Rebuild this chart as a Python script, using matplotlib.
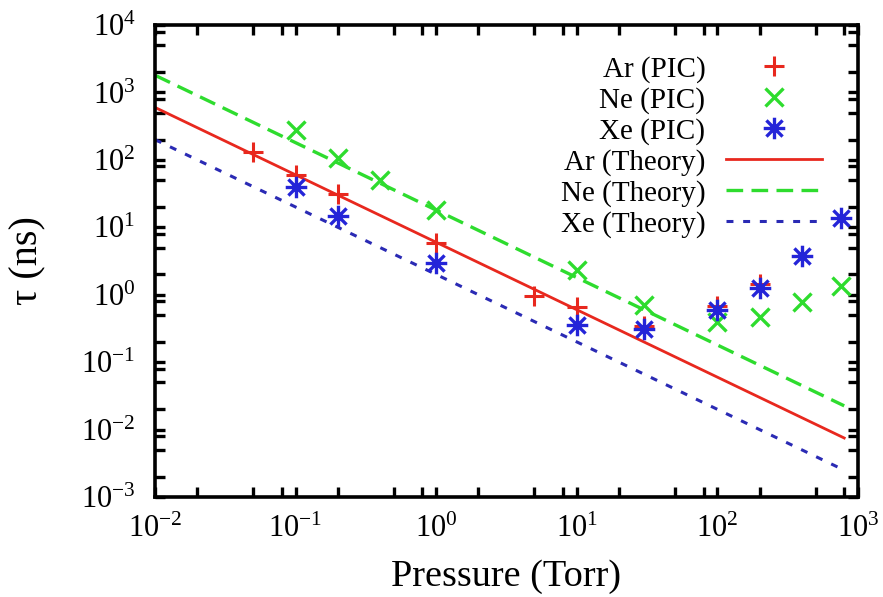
import matplotlib
matplotlib.use("Agg")
import matplotlib.pyplot as plt
from matplotlib.path import Path
from matplotlib.ticker import LogLocator, LogFormatterMathtext, NullFormatter

plt.rcParams["font.family"] = ["Liberation Serif", "DejaVu Serif"]
plt.rcParams["mathtext.fontset"] = "custom"
plt.rcParams["mathtext.rm"] = "Liberation Serif"
plt.rcParams["axes.unicode_minus"] = False
plt.rcParams["lines.scale_dashes"] = False

# PIC results (pressure in Torr, tau in ns)
ar_p = [0.05, 0.1, 0.2, 1, 5, 10, 30, 100, 200, 400]
ar_tau = [130, 60, 31, 5.8, 0.95, 0.66, 0.34, 0.68, 1.45, 3.8]

ne_p = [0.1, 0.2, 0.4, 1, 10, 30, 100, 200, 400, 760]
ne_tau = [280, 105, 50, 18, 2.3, 0.70, 0.40, 0.46, 0.79, 1.35]

xe_p = [0.1, 0.2, 1, 10, 30, 100, 200, 400, 760]
xe_tau = [40, 14.5, 3.0, 0.36, 0.31, 0.59, 1.27, 3.7, 13.6]

# Theory curves (straight lines on log-log axes)
theory_p = [0.01, 800]
ar_theory = [600, 0.0075]
ne_theory = [1800, 0.0225]
xe_theory = [200, 0.0025]

red = "#e8281e"
green = "#2edc2e"
blue = "#2424d8"
blue_line = "#2a2ab4"

# eight-armed asterisk marker (+ and x overlaid)
d = 0.75
star = Path(
    [(-1, 0), (1, 0), (0, -1), (0, 1), (-d, -d), (d, d), (-d, d), (d, -d)],
    [Path.MOVETO, Path.LINETO] * 4,
)

fig = plt.figure(figsize=(8.83, 5.97), dpi=100)
ax = fig.add_axes([0.1755, 0.1675, 0.796, 0.7906])

ax.plot(ar_p, ar_tau, linestyle="none", marker="+", ms=14, mew=2.2,
        color=red, label="Ar (PIC)", zorder=3)
ax.plot(ne_p, ne_tau, linestyle="none", marker="x", ms=12.5, mew=2.4,
        color=green, label="Ne (PIC)", zorder=4)
ax.plot(xe_p, xe_tau, linestyle="none", marker=star, ms=15.5, mew=2.4,
        mfc="none", mec=blue, color=blue, label="Xe (PIC)", zorder=5)

ax.plot(theory_p, ar_theory, color=red, lw=2.0, label="Ar (Theory)", zorder=2)
ax.plot(theory_p, ne_theory, color=green, lw=2.4, dashes=(12, 6),
        label="Ne (Theory)", zorder=2)
ax.plot(theory_p, xe_theory, color=blue_line, lw=2.2, dashes=(5, 7),
        label="Xe (Theory)", zorder=2)

ax.set_xscale("log")
ax.set_yscale("log")
ax.set_xlim(1e-2, 1e3)
ax.set_ylim(1e-3, 1e4)

for axis in (ax.xaxis, ax.yaxis):
    axis.set_major_locator(LogLocator(base=10, numticks=20))
    axis.set_minor_locator(LogLocator(base=10, subs=(2, 5, 8), numticks=20))
    axis.set_major_formatter(LogFormatterMathtext())
    axis.set_minor_formatter(NullFormatter())

ax.tick_params(which="both", direction="in", top=True, right=True,
               length=7, width=2.4, color="black", labelsize=22)
ax.tick_params(axis="y", pad=14)
ax.tick_params(axis="x", pad=13)
for s in ax.spines.values():
    s.set_linewidth(2.6)

ax.set_xlabel("Pressure (Torr)", fontsize=27.5, labelpad=11)
ax.set_ylabel("τ (ns)", fontsize=29, labelpad=25)

leg = ax.legend(loc="upper right", bbox_to_anchor=(0.949, 0.935),
                frameon=False, markerfirst=False, fontsize=21,
                handlelength=3.3, handletextpad=0.7, labelspacing=0.14,
                borderpad=0, borderaxespad=0)

# right-align the legend labels
for t in leg.get_texts():
    t.set_ha("right")

fig.savefig("out.png", dpi=100)
